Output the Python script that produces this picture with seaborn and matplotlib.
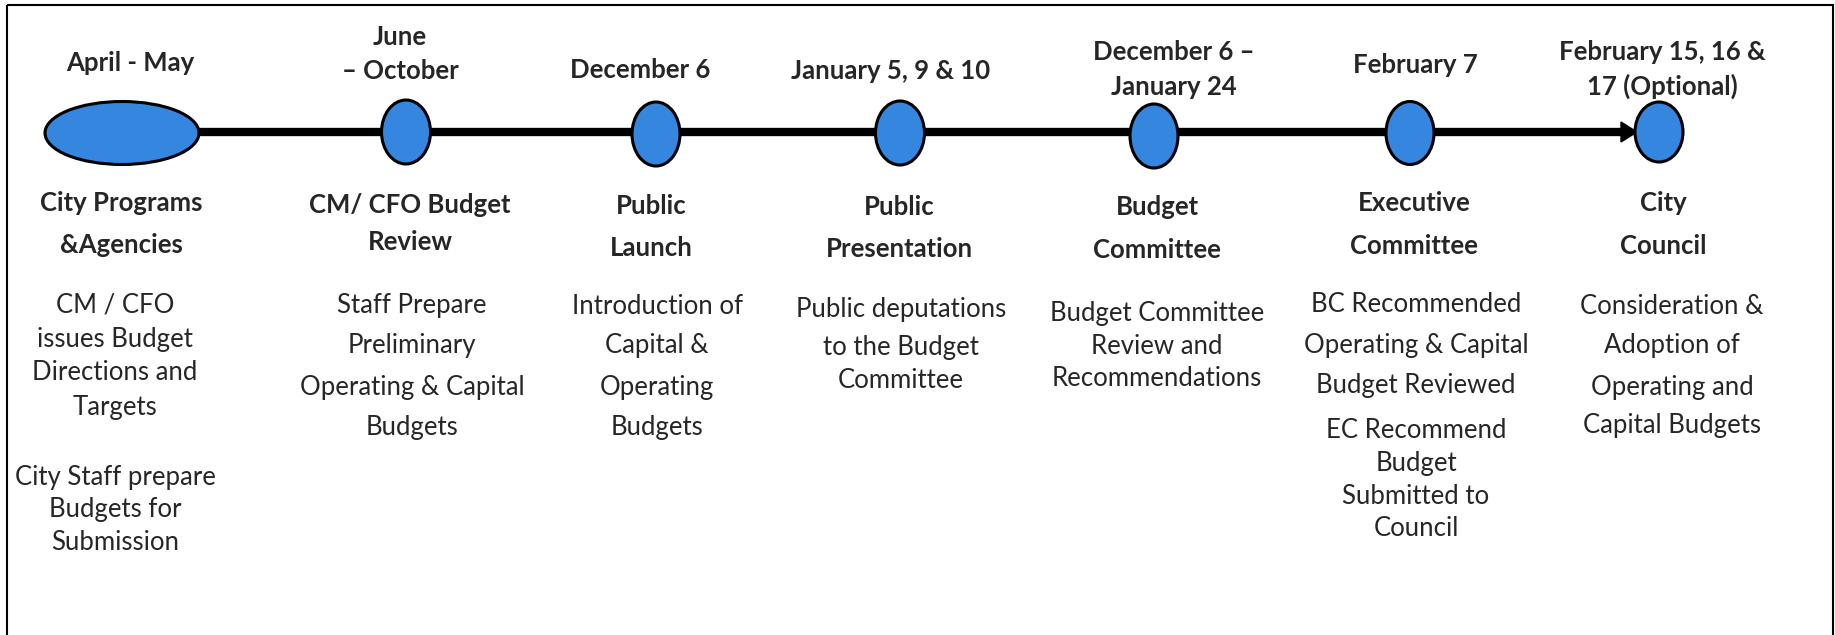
import matplotlib
matplotlib.use("Agg")
import matplotlib.pyplot as plt
import seaborn as sns
import pandas as pd
from matplotlib.patches import Ellipse, Polygon, Rectangle

# Timeline content
dates = [
    ["April - May"],
    ["June", "\u2013 October"],
    ["December 6"],
    ["January 5, 9 & 10"],
    ["December 6 \u2013", "January 24"],
    ["February 7"],
    ["February 15, 16 &", "17 (Optional)"],
]
titles = [
    ["City Programs", "&Agencies"],
    ["CM/ CFO Budget", "Review"],
    ["Public", "Launch"],
    ["Public", "Presentation"],
    ["Budget", "Committee"],
    ["Executive", "Committee"],
    ["City", "Council"],
]
details = [
    ["CM / CFO", "issues Budget", "Directions and", "Targets",
     "City Staff prepare", "Budgets for", "Submission"],
    ["Staff Prepare", "Preliminary", "Operating & Capital", "Budgets"],
    ["Introduction of", "Capital &", "Operating", "Budgets"],
    ["Public deputations", "to the Budget", "Committee"],
    ["Budget Committee", "Review and", "Recommendations"],
    ["BC Recommended", "Operating & Capital", "Budget Reviewed",
     "EC Recommend", "Budget", "Submitted to", "Council"],
    ["Consideration &", "Adoption of", "Operating and", "Capital Budgets"],
]

# layout (pixel space)
node_x = [122, 406, 656, 900, 1154, 1410, 1659]
node_y = [133, 132, 134, 133, 136, 133, 132]
node_w = [154, 49, 48, 49, 48, 48, 48]
node_h = [63, 64, 64, 64, 64, 63, 60]
date_x = [130, 400, 640, 891, 1174, 1415, 1662]
date_y = [[63], [37, 71], [70], [71], [52, 87], [65], [52, 86]]
title_x = [121, 410, 651, 899, 1157, 1414, 1663]
title_y = [[203, 245], [205, 242], [206, 248], [207, 249], [207, 250], [203, 246], [203, 246]]
detail_x = [115, 412, 657, 901, 1157, 1416, 1672]
detail_y = [[305, 340, 373, 407, 477, 510, 543],
            [305, 345, 387, 428],
            [307, 345, 388, 427],
            [310, 347, 381],
            [313, 347, 379],
            [305, 345, 386, 430, 463, 497, 529],
            [306, 345, 387, 426]]

sns.set_style("white")
plt.rcParams['font.family'] = ['Lato', 'DejaVu Sans']

fig = plt.figure(figsize=(18.35, 6.35), dpi=100)
ax = fig.add_axes([0, 0, 1, 1])
ax.set_xlim(0, 1835)
ax.set_ylim(635, 0)
ax.axis('off')

# outer frame
ax.add_patch(Rectangle((7, 5), 1826, 640, fill=False, edgecolor='black', linewidth=1.5))

# main line + arrow head
line = pd.DataFrame({'x': [node_x[0] + node_w[0] / 2, 1622], 'y': [132, 132]})
sns.lineplot(data=line, x='x', y='y', color='black', linewidth=6, ax=ax, zorder=1)
ax.add_patch(Polygon([[1621, 122], [1637, 132], [1621, 142]], closed=True,
                     facecolor='black', edgecolor='black', zorder=1))

blue = '#3586df'
for i in range(len(node_x)):
    ax.add_patch(Ellipse((node_x[i], node_y[i]), node_w[i], node_h[i],
                         facecolor=blue, edgecolor='black', linewidth=2.2, zorder=2))
    for txt, yy in zip(dates[i], date_y[i]):
        ax.text(date_x[i], yy, txt, ha='center', va='center', fontsize=18.5, fontweight='bold')
    for txt, yy in zip(titles[i], title_y[i]):
        ax.text(title_x[i], yy, txt, ha='center', va='center', fontsize=18.5, fontweight='bold')
    for txt, yy in zip(details[i], detail_y[i]):
        ax.text(detail_x[i], yy, txt, ha='center', va='center', fontsize=18.5)

ax.set_xlabel('')
ax.set_ylabel('')
fig.savefig('out.png', dpi=100)
